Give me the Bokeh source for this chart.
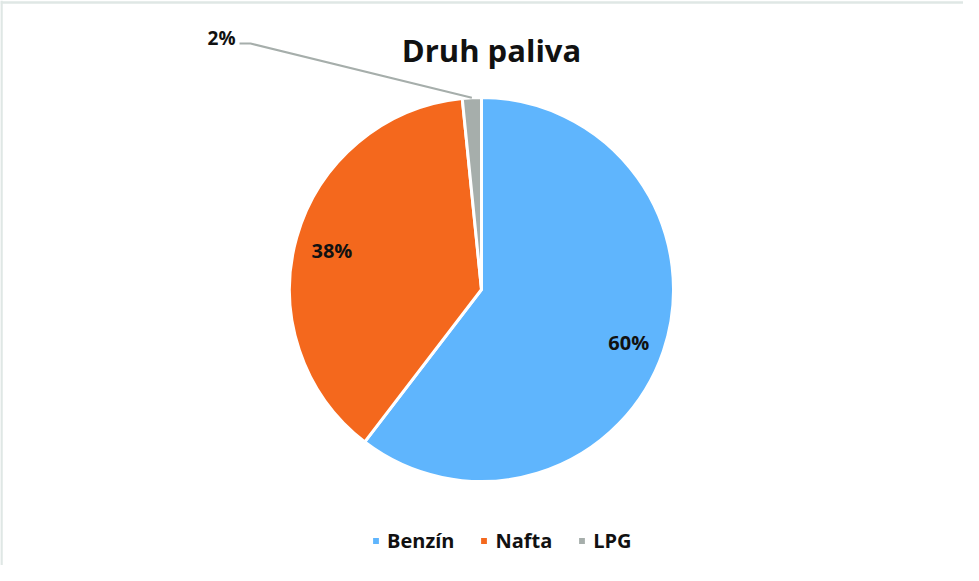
import math
from bokeh.plotting import figure
from bokeh.models import ColumnDataSource, Range1d, Label, Legend, LegendItem, Span
from bokeh.core.properties import value
from bokeh.embed import file_html
from bokeh.resources import INLINE

# ---- data ----
categories = ["Benzín", "Nafta", "LPG"]
shares = [60.4, 38.0, 1.6]
colors = ["#5fb5fd", "#f4681d", "#a6aeab"]
title_text = "Druh paliva"

# ---- layout ----
W, H = 963, 565
CX, CY = 481, 289   # pie centre, canvas pixels from top-left
R = 192
FONT = "Open Sans"

total = sum(shares)
starts, ends, mids, pct = [], [], [], []
acc = 0.0
for v in shares:
    a0 = math.pi / 2 - 2 * math.pi * acc / total
    acc += v
    a1 = math.pi / 2 - 2 * math.pi * acc / total
    starts.append(a0)
    ends.append(a1)
    mids.append((a0 + a1) / 2)
    pct.append(f"{round(v / total * 100)}%")

src = ColumnDataSource(dict(cat=categories, share=shares, color=colors,
                            start=starts, end=ends))

p = figure(width=W, height=H,
           x_range=Range1d(-CX, W - CX), y_range=Range1d(-(H - CY), CY),
           x_axis_type=None, y_axis_type=None,
           output_backend="svg", toolbar_location=None, min_border=0)
p.outline_line_color = None
p.background_fill_color = "white"
p.border_fill_color = "white"

# chart border (top & left visible, rest cropped in reference)
p.add_layout(Span(location=CY - 2, dimension="width", line_color="#dfe7e5", line_width=2.5))
p.add_layout(Span(location=-CX + 1, dimension="height", line_color="#dfe7e5", line_width=2.5))

wedges = p.wedge(x=0, y=0, radius=R, start_angle="start", end_angle="end",
                 direction="clock", fill_color="color", line_color="white",
                 line_width=3, source=src)

# inside labels (first two slices)
k = 0.81
in_src = ColumnDataSource(dict(
    x=[k * R * math.cos(m) for m in mids[:2]],
    y=[k * R * math.sin(m) - 3 for m in mids[:2]],
    t=pct[:2]))
p.text(x="x", y="y", text="t", source=in_src, text_align="center",
       text_baseline="middle", text_font=value(FONT), text_font_style="bold",
       text_font_size="20px", text_color="#111111")

# outside label for LPG with leader line
lx, ly = -246, 246
ex = R * math.cos(mids[2])
ey = R * math.sin(mids[2])
p.line(x=[lx + 4, lx + 15, ex], y=[ly, ly, ey], line_color="#a6aeab", line_width=2)
p.add_layout(Label(x=lx, y=ly + 6, text=pct[2], text_align="right",
                   text_baseline="middle", text_font=FONT, text_font_style="bold",
                   text_font_size="19px", text_color="#111111"))

# title
p.add_layout(Label(x=10, y=240, text=title_text, text_align="center",
                   text_baseline="alphabetic", text_font=FONT,
                   text_font_style="bold", text_font_size="31px",
                   text_color="#111111"))

legend = Legend(items=[LegendItem(label=c, renderers=[wedges], index=i)
                       for i, c in enumerate(categories)],
                orientation="horizontal", location=(370, 11),
                padding=0, margin=0, border_line_color=None,
                background_fill_alpha=0, glyph_width=11, glyph_height=11,
                label_standoff=6, spacing=24,
                label_text_font=FONT, label_text_font_style="bold",
                label_text_font_size="20px", label_text_color="#111111")
p.add_layout(legend)

open("out.html", "w").write(file_html(p, INLINE))
